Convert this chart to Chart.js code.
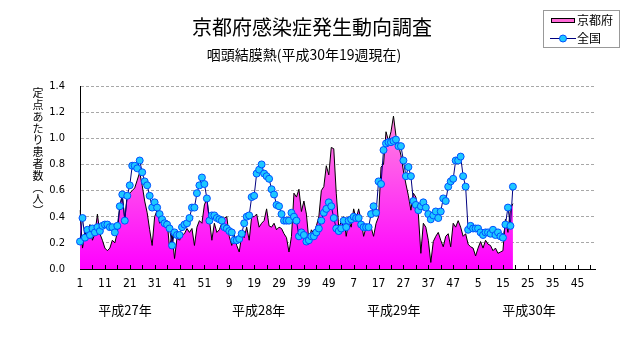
<!DOCTYPE html>
<html><head><meta charset="utf-8">
<script src="https://cdn.jsdelivr.net/npm/chart.js@4/dist/chart.umd.min.js"></script>
<style>html,body{margin:0;padding:0;background:#fff;}canvas{display:block;}</style>
</head><body>
<canvas id="c" width="631" height="347"></canvas>
<script>
// ---- text ----
const chartTitle = '京都府感染症発生動向調査';
const chartSubtitle = '咽頭結膜熱(平成30年19週現在)';
const yAxisTitle = '定点あたり患者数(人)';
const seriesNames = ['京都府', '全国'];

// ---- categories ----
const yearNames = ['平成27年', '平成28年', '平成29年', '平成30年'];
const weeksPerYear = [52, 52, 52, 52];
const yearLabelWeek = [19.1, 20.8, 23.1, 25.5]; // week (within year) under which the year label is centred
const labelEvery = 10;
const tickMarkEvery = 5;

// ---- y ticks ----
const yMin = 0, yMax = 1.4, yStep = 0.2;

// ---- series: 京都府 ----
const kyoto2015 = [0.45,0.16,0.28,0.24,0.34,0.22,0.27,0.42,0.27,0.22,0.16,0.14,0.16,0.22,0.20,0.28,0.48,0.56,0.38,0.57,
  0.58,0.60,0.62,0.68,0.74,0.64,0.52,0.43,0.30,0.18,0.40,0.45,0.35,0.38,0.33,0.37,0.16,0.27,0.08,0.24,
  0.22,0.26,0.27,0.31,0.28,0.31,0.18,0.32,0.37,0.35,0.49,0.54];
const kyoto2016 = [0.38,0.22,0.35,0.28,0.30,0.35,0.39,0.40,0.25,0.18,0.26,0.18,0.13,0.26,0.24,0.32,0.22,0.40,0.40,0.42,
  0.32,0.35,0.37,0.46,0.33,0.32,0.35,0.30,0.32,0.31,0.27,0.24,0.13,0.25,0.58,0.55,0.61,0.44,0.52,0.42,
  0.22,0.30,0.27,0.33,0.40,0.60,0.63,0.79,0.72,0.93,0.92,0.58];
const kyoto2017 = [0.32,0.36,0.40,0.25,0.37,0.32,0.46,0.38,0.46,0.37,0.25,0.32,0.31,0.32,0.25,0.35,0.40,0.78,0.80,1.05,
  0.98,1.05,1.17,1.02,0.95,0.87,0.75,0.65,0.56,0.45,0.58,0.55,0.42,0.12,0.35,0.32,0.22,0.05,0.21,0.25,
  0.28,0.22,0.17,0.25,0.27,0.17,0.35,0.32,0.37,0.32,0.25,0.27];
const kyoto2018 = [0.19,0.17,0.16,0.10,0.16,0.21,0.16,0.22,0.19,0.18,0.14,0.16,0.12,0.13,0.14,0.38,0.28,0.46,0.50];

// ---- series: 全国 ----
const zenkoku2015 = [0.21,0.39,0.24,0.30,0.26,0.31,0.28,0.32,0.29,0.33,0.34,0.34,0.32,0.32,0.28,0.33,0.48,0.57,0.37,0.56,
  0.64,0.79,0.79,0.77,0.83,0.74,0.67,0.64,0.56,0.47,0.51,0.47,0.42,0.38,0.35,0.34,0.31,0.18,0.28,0.26,
  0.26,0.32,0.34,0.35,0.39,0.47,0.47,0.58,0.64,0.70,0.65,0.54];
const zenkoku2016 = [0.37,0.41,0.41,0.39,0.38,0.37,0.32,0.31,0.29,0.28,0.22,0.22,0.23,0.27,0.35,0.40,0.41,0.55,0.56,0.73,
  0.76,0.80,0.73,0.71,0.69,0.61,0.57,0.49,0.48,0.42,0.37,0.37,0.37,0.43,0.40,0.37,0.25,0.28,0.26,0.21,
  0.22,0.25,0.25,0.28,0.31,0.37,0.43,0.46,0.51,0.48,0.39,0.31];
const zenkoku2017 = [0.29,0.31,0.37,0.32,0.37,0.38,0.40,0.39,0.39,0.34,0.32,0.32,0.32,0.42,0.48,0.43,0.67,0.65,0.91,0.96,
  0.97,0.97,0.98,0.99,0.94,0.94,0.83,0.71,0.78,0.71,0.52,0.49,0.45,0.48,0.51,0.47,0.42,0.38,0.41,0.44,
  0.39,0.44,0.54,0.52,0.63,0.67,0.69,0.83,0.83,0.86,0.71,0.63];
const zenkoku2018 = [0.30,0.33,0.31,0.31,0.31,0.28,0.26,0.28,0.28,0.27,0.30,0.26,0.28,0.25,0.24,0.34,0.47,0.33,0.63];

// ---- build ----
const labels = [];
const yearStart = [];
weeksPerYear.forEach(n => { yearStart.push(labels.length); for (let w = 1; w <= n; w++) labels.push(String(w)); });
const kyoto = [].concat(kyoto2015, kyoto2016, kyoto2017, kyoto2018);
const zenkoku = [].concat(zenkoku2015, zenkoku2016, zenkoku2017, zenkoku2018);

const NARROW = '"Liberation Sans Narrow","Arial Narrow","DejaVu Sans Condensed","Liberation Sans",sans-serif';
const CJK = '"Noto Sans CJK JP","Noto Sans CJK SC",sans-serif';
const PINK_TOP = '#ffa0da', PINK_BOTTOM = '#ff00ff';

function pinkGradient(chart) {
  const a = chart.chartArea;
  if (!a) return PINK_BOTTOM;
  const g = chart.ctx.createLinearGradient(0, a.top, 0, a.bottom);
  g.addColorStop(0, PINK_TOP);
  g.addColorStop(1, PINK_BOTTOM);
  return g;
}

const decor = {
  id: 'decor',
  afterDatasetsDraw(chart) {
    const {ctx, chartArea, scales: {x}} = chart;
    ctx.save();
    ctx.strokeStyle = '#000';
    ctx.lineWidth = 1;
    ctx.beginPath();
    for (let i = tickMarkEvery; i < labels.length; i += tickMarkEvery) {
      const px = Math.round(x.getPixelForValue(i)) + 0.5;
      ctx.moveTo(px, chartArea.bottom);
      ctx.lineTo(px, chartArea.bottom - 4);
    }
    ctx.stroke();
    ctx.restore();
  },
  afterDraw(chart) {
    const {ctx, scales: {x}} = chart;
    ctx.save();
    ctx.fillStyle = '#000';
    ctx.textAlign = 'center';
    ctx.textBaseline = 'middle';
    // title & subtitle
    ctx.font = '20px ' + CJK;
    ctx.fillText(chartTitle, 312, 27);
    ctx.font = '14px ' + CJK;
    ctx.fillText(chartSubtitle, 304, 55);
    // year labels
    ctx.font = '13px ' + CJK;
    yearNames.forEach((name, k) => {
      const px = x.getPixelForValue(yearStart[k] + yearLabelWeek[k] - 1);
      ctx.fillText(name, px, 310);
    });
    // vertical y-axis title
    ctx.font = '11px ' + CJK;
    const vert = {'(': '\uFE35', ')': '\uFE36'};
    Array.from(yAxisTitle).forEach((ch, k) => {
      ctx.fillText(vert[ch] || ch, 38, 93 + k * 11.8);
    });
    // legend
    ctx.strokeStyle = '#999';
    ctx.lineWidth = 1;
    ctx.strokeRect(543.5, 10.5, 76, 37);
    ctx.fillStyle = '#ff6ad8';
    ctx.fillRect(551, 18, 24, 4);
    ctx.strokeStyle = '#000';
    ctx.strokeRect(551.5, 18.5, 23, 4);
    ctx.strokeStyle = '#000080';
    ctx.beginPath(); ctx.moveTo(550, 38.5); ctx.lineTo(576, 38.5); ctx.stroke();
    ctx.beginPath(); ctx.arc(563, 38.5, 3.5, 0, Math.PI * 2);
    ctx.fillStyle = '#1ec8ff'; ctx.fill();
    ctx.strokeStyle = '#0050ff'; ctx.stroke();
    ctx.fillStyle = '#000';
    ctx.textAlign = 'left';
    ctx.font = '12px ' + CJK;
    ctx.fillText(seriesNames[0], 577, 20);
    ctx.fillText(seriesNames[1], 577, 38);
    ctx.restore();
  }
};

new Chart(document.getElementById('c'), {
  type: 'line',
  data: {
    labels,
    datasets: [
      { label: seriesNames[1], data: zenkoku, borderColor: '#000080', borderWidth: 1,
        pointRadius: 3.5, pointBackgroundColor: '#1ec8ff', pointBorderColor: '#0050ff', pointBorderWidth: 1,
        fill: false, tension: 0, order: 1 },
      { label: seriesNames[0], data: kyoto, borderColor: '#000', borderWidth: 1, pointRadius: 0,
        fill: 'origin', backgroundColor: ctx => pinkGradient(ctx.chart), tension: 0, order: 2 }
    ]
  },
  options: {
    responsive: false, animation: false, devicePixelRatio: 1,
    layout: { padding: { top: 86, right: 36, left: 0, bottom: 0 } },
    plugins: { legend: { display: false }, title: { display: false }, tooltip: { enabled: false } },
    scales: {
      x: {
        type: 'category', offset: false,
        grid: { display: false, drawTicks: false },
        border: { display: true, color: '#000', width: 1 },
        ticks: { autoSkip: false, maxRotation: 0, minRotation: 0, padding: 8, color: '#000',
          font: { family: NARROW, size: 12 },
          callback: (v, i) => (i % labelEvery === 0 ? labels[i] : '') },
        afterFit: s => { s.height = 78; }
      },
      y: {
        min: yMin, max: yMax,
        ticks: { stepSize: yStep, padding: 15, color: '#000', font: { family: NARROW, size: 11 },
          callback: v => Number(v).toFixed(1) },
        grid: { drawTicks: false, lineWidth: 1,
          color: c => (c.tick && c.tick.value === 0 ? 'rgba(0,0,0,0)' : '#a8a8a8') },
        border: { display: true, color: '#000', width: 1, dash: [3, 2] },
        afterFit: s => { s.width = 80; }
      }
    }
  },
  plugins: [decor]
});
</script>
</body></html>
